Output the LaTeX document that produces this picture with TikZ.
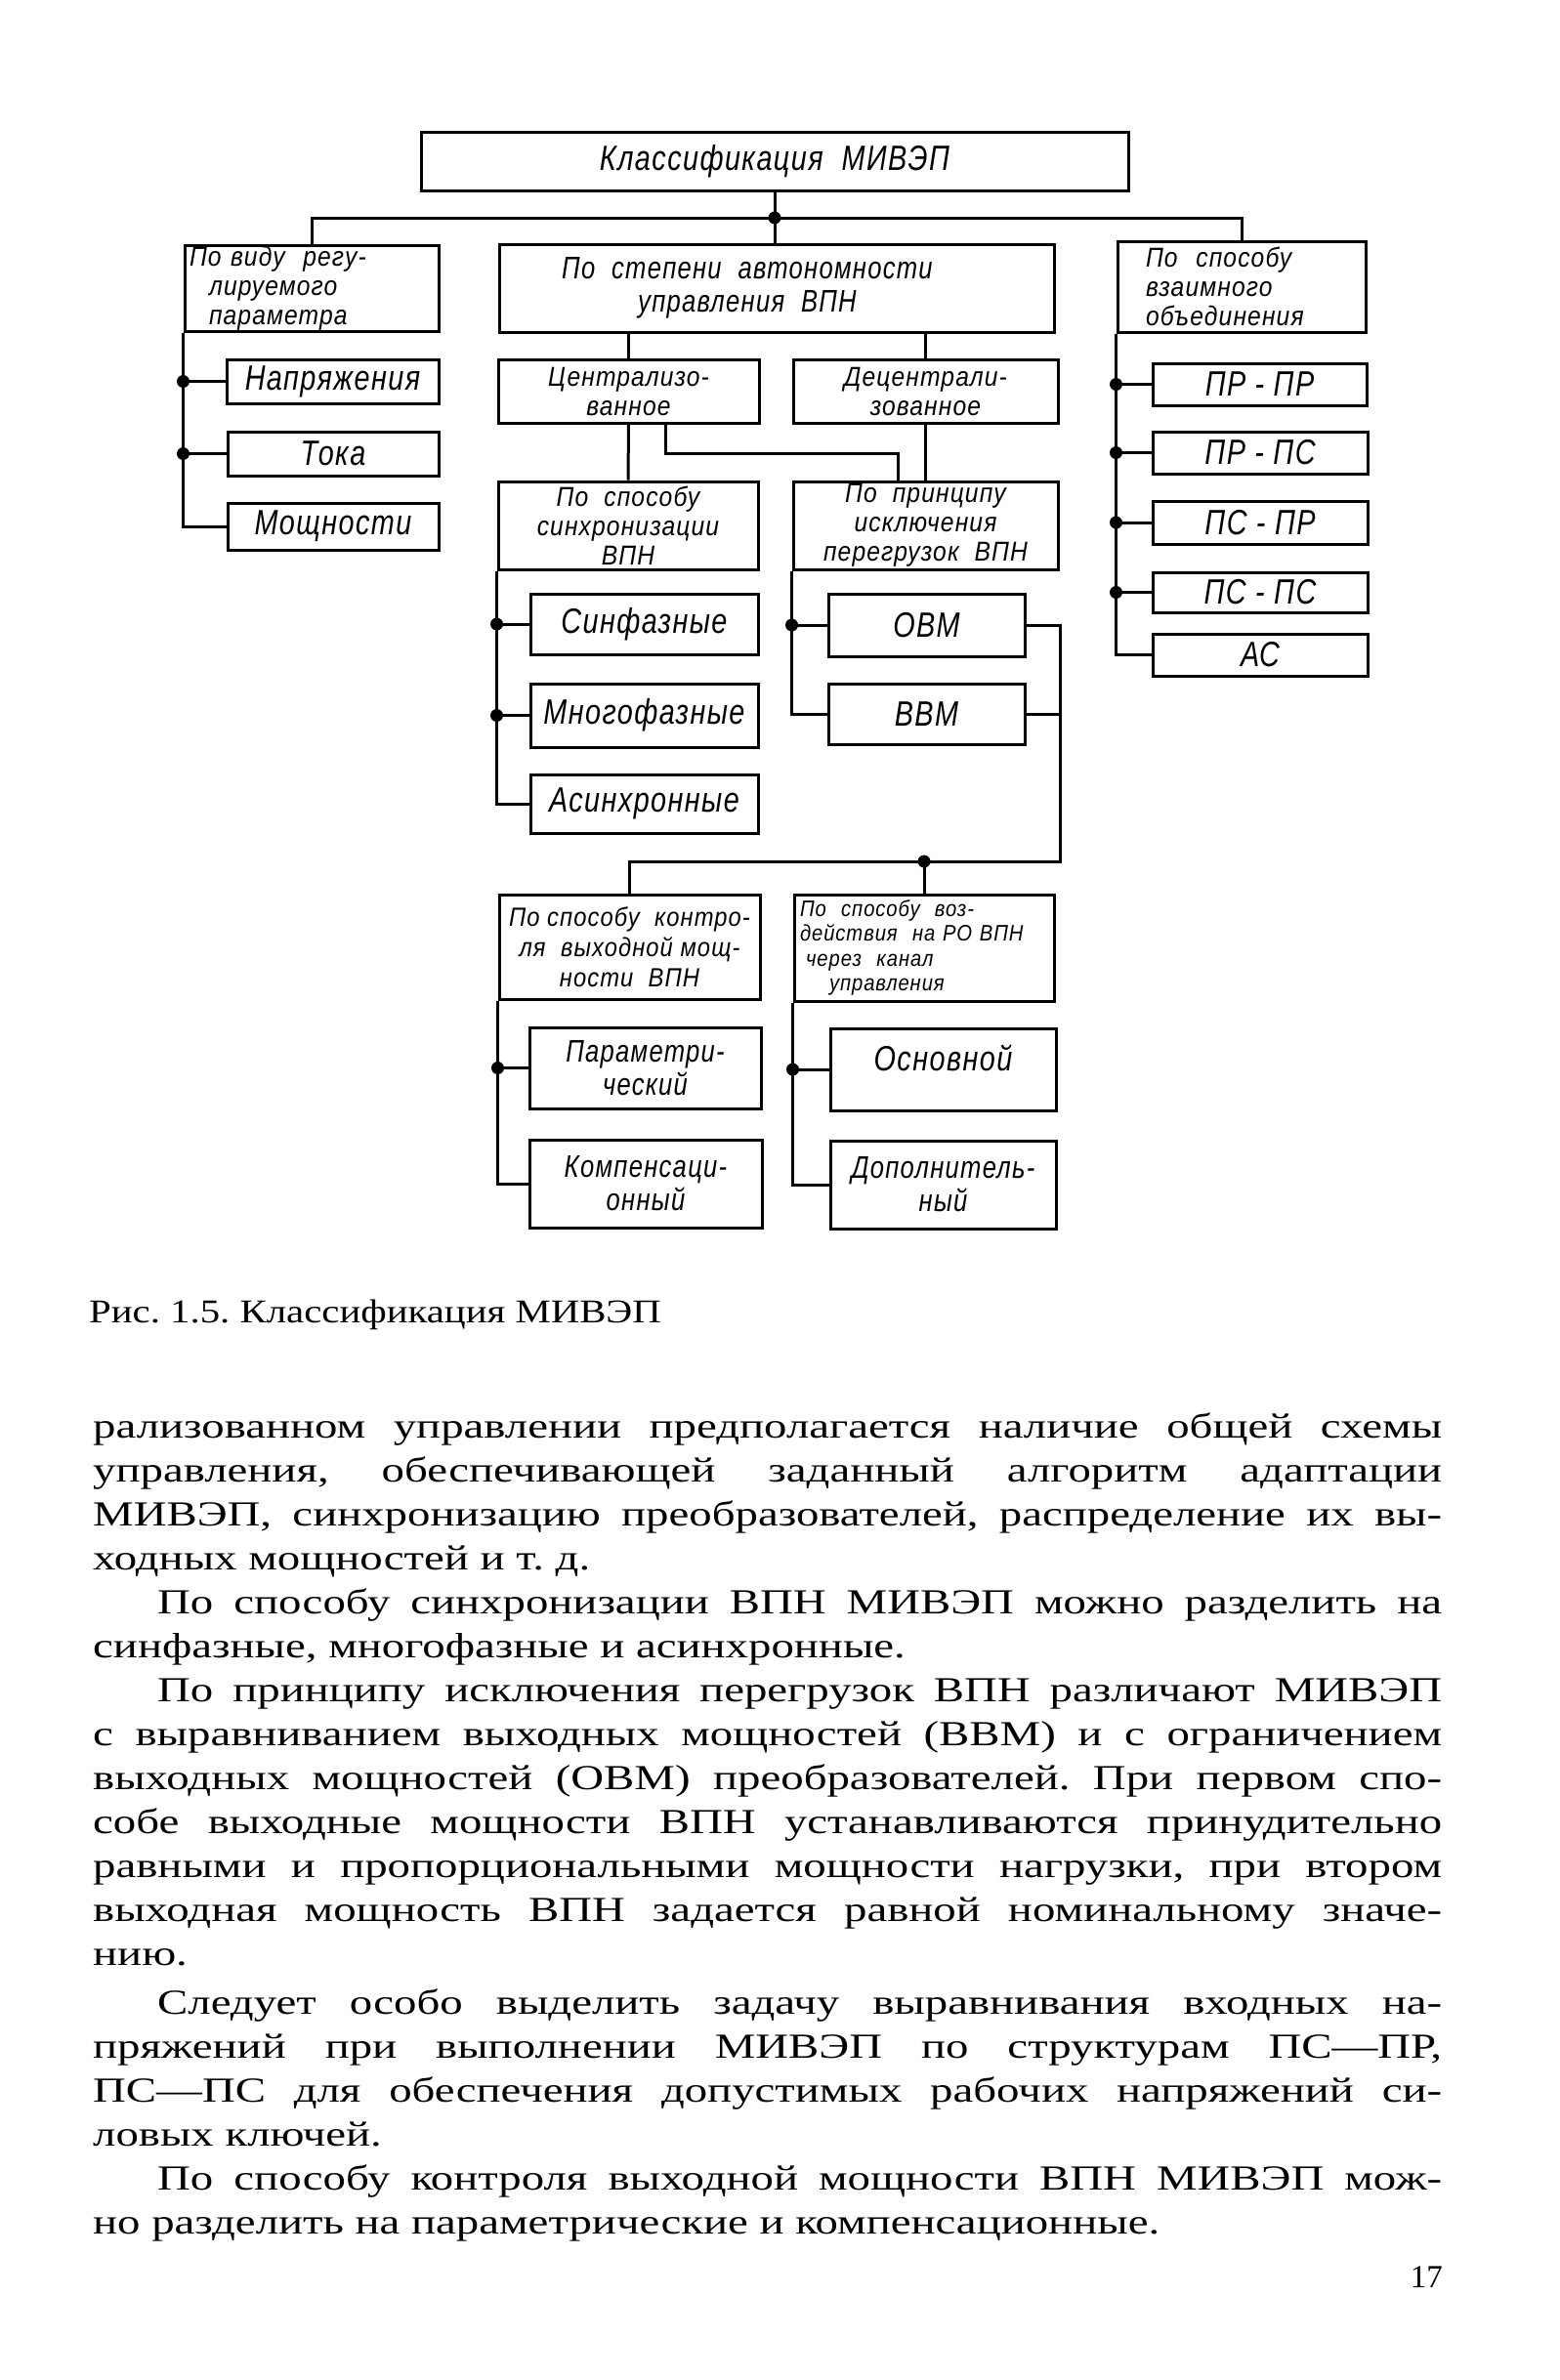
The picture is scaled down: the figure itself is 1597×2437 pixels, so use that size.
\documentclass[tikz,border=0pt]{standalone}
\usepackage{fontspec}
\setmainfont{Liberation Serif}
\newfontfamily\dfont[FakeStretch=0.8,LetterSpace=4]{Liberation Sans}
\newfontfamily\dfontw[FakeStretch=0.88,LetterSpace=4]{Liberation Sans}
\newfontfamily\bodyfont[FakeStretch=1.3]{Liberation Serif}
\newfontfamily\capfont[FakeStretch=1.2]{Liberation Serif}
\newfontfamily\numfont{Liberation Serif}
\newcommand\mybox[7][]{\node[box,#1,minimum width={(#5-#3)*1pt},minimum height={(#6-#4)*1pt}] (#2) at ({(#3+#5)/2},{(#4+#6)/2}) {#7};}
\newcommand\jl[3]{\node[bodyline] (#1) at (95,#2) {\makebox[1381pt][s]{#3}};}
\newcommand\lastl[3]{\node[bodyline] (#1) at (95,#2) {#3};}
\tikzset{
  box/.style={draw, line width=3pt, inner sep=0pt, align=center,
    font=\dfont\itshape\fontsize{36pt}{38pt}\selectfont},
  mbox/.style={font=\dfontw\itshape\fontsize{28pt}{30pt}\selectfont},
  pbox/.style={font=\dfont\itshape\fontsize{32pt}{34pt}\selectfont},
  sbox/.style={font=\dfontw\itshape\fontsize{27pt}{31pt}\selectfont},
  tbox/.style={font=\dfontw\itshape\fontsize{23pt}{25.5pt}\selectfont},
  wire/.style={line width=3pt},
  bodyline/.style={anchor=base west, inner sep=0pt,
    font=\bodyfont\fontsize{36pt}{45pt}\selectfont},
}
\begin{document}
\frenchspacing
\begin{tikzpicture}[x=1pt,y=-1pt]
\useasboundingbox (0,0) rectangle (1597,2437);
\fill[white] (0,0) rectangle (1597,2437);

% boxes
\mybox{top}{431}{135}{1155}{195}{Классификация\ \ МИВЭП}
\mybox[mbox,text width=250pt,align=left]{left}{189}{251}{449}{339}{По\ виду\ \ регу-\\\hspace*{20pt}лируемого\\\hspace*{20pt}параметра}
\mybox[pbox]{mid}{511}{250}{1079}{340}{По\ \ степени\ \ автономности\hspace*{60pt}\\управления\ \ ВПН\hspace*{60pt}}
\mybox[mbox,text width=196pt,align=left]{right}{1144}{247}{1398}{340}{По\ \ способу\\взаимного\\объединения}

\mybox{napr}{232}{368}{449}{413}{Напряжения}
\mybox{toka}{233}{442}{449}{487}{Тока}
\mybox{mosh}{233}{515}{449}{563}{Мощности}

\mybox[mbox]{cent}{510}{368}{777}{433}{Централизо-\\ванное}
\mybox[mbox]{dec}{812}{368}{1083}{433}{Децентрали-\\зованное}
\mybox[mbox]{sync}{510}{493}{776}{583}{По\ \ способу\\синхронизации\\ВПН}
\mybox[mbox]{princ}{812}{493}{1083}{583}{По\ \ принципу\\исключения\\перегрузок\ \ ВПН}

\mybox{sinf}{543}{608}{776}{670}{Синфазные}
\mybox{mnog}{543}{700}{776}{765}{Многофазные}
\mybox{asin}{543}{793}{776}{853}{Асинхронные}
\mybox{ovm}{848}{608}{1049}{672}{ОВМ}
\mybox{vvm}{848}{700}{1049}{762}{ВВМ}

\mybox[sbox]{ctrl}{511}{916}{778}{1023}{По способу\ \ контро-\\ля\ \ выходной\ мощ-\\ности\ \ ВПН}
\mybox[tbox,text width=254pt,align=left]{act}{813}{916}{1079}{1025}{По\ \ способу\ \ воз-\\действия\ \ на РО ВПН\\\hspace*{6pt}через\ \ канал\\\hspace*{30pt}управления}

\mybox[pbox]{param}{542}{1052}{779}{1135}{Параметри-\\ческий}
\mybox[pbox]{komp}{542}{1167}{780}{1257}{Компенсаци-\\онный}
\mybox{osn}{850}{1053}{1081}{1137}{\raisebox{12pt}[\height][\depth]{Основной}}
\mybox[pbox]{dop}{850}{1168}{1081}{1258}{Дополнитель-\\ный}

\mybox{prpr}{1180}{372}{1399}{415}{ПР - ПР}
\mybox{prps}{1180}{442}{1400}{485}{ПР - ПС}
\mybox{pspr}{1180}{513}{1400}{557}{ПС - ПР}
\mybox{psps}{1180}{586}{1400}{627}{ПС - ПС}
\mybox{as}{1180}{649}{1400}{692}{АС}

% connectors
\coordinate (bus) at (794,223);
\draw[wire] (top.south) -- (top.south |- mid.north);
\draw[wire] (left.north) |- (bus) -| (right.north);
\fill (top.south |- bus) circle[radius=6.5pt];

\draw[wire] (left.south west) |- (mosh.west);
\draw[wire] (left.south west |- napr.west) -- (napr.west);
\draw[wire] (left.south west |- toka.west) -- (toka.west);
\fill (left.south west |- napr.west) circle[radius=6.5pt];
\fill (left.south west |- toka.west) circle[radius=6.5pt];

\draw[wire] (cent.north) -- (cent.north |- mid.south);
\draw[wire] (dec.north) -- (dec.north |- mid.south);
\draw[wire] (cent.south) -- (sync.north);
\draw[wire] (dec.south) -- (princ.north);
\draw[wire] ([xshift=38pt]cent.south) -- ++(0,30) -| ([xshift=-28pt]princ.north);

\draw[wire] (sync.south west) |- (asin.west);
\draw[wire] (sync.south west |- sinf.west) -- (sinf.west);
\draw[wire] (sync.south west |- mnog.west) -- (mnog.west);
\fill (sync.south west |- sinf.west) circle[radius=6.5pt];
\fill (sync.south west |- mnog.west) circle[radius=6.5pt];

\draw[wire] (princ.south west) |- (vvm.west);
\draw[wire] (princ.south west |- ovm.west) -- (ovm.west);
\fill (princ.south west |- ovm.west) circle[radius=6.5pt];

\coordinate (b2) at (1085,882);
\draw[wire] (ovm.east) -| (b2) -| (ctrl.north);
\draw[wire] (vvm.east) -- (vvm.east -| b2);
\draw[wire] (act.north) -- (act.north |- b2);
\fill (act.north |- b2) circle[radius=6.5pt];

\draw[wire] (ctrl.south west) |- (komp.west);
\draw[wire] (ctrl.south west |- param.west) -- (param.west);
\fill (ctrl.south west |- param.west) circle[radius=6.5pt];

\draw[wire] (act.south west) |- (dop.west);
\draw[wire] (act.south west |- osn.west) -- (osn.west);
\fill (act.south west |- osn.west) circle[radius=6.5pt];

\draw[wire] (right.south west) |- (as.west);
\foreach \n in {prpr,prps,pspr,psps}{
  \draw[wire] (right.south west |- \n.west) -- (\n.west);
  \fill (right.south west |- \n.west) circle[radius=6.5pt];
}

% caption
\node[anchor=base west, inner sep=0pt, font=\capfont\fontsize{34pt}{34pt}\selectfont] (cap) at (91,1354) {Рис. 1.5. Классификация МИВЭП};

% body text
\jl{l1}{1472}{рализованном управлении предполагается наличие общей схемы}
\jl{l2}{1517}{управления, обеспечивающей заданный алгоритм адаптации}
\jl{l3}{1562}{МИВЭП, синхронизацию преобразователей, распределение их вы-}
\lastl{l4}{1607}{ходных мощностей и т. д.}
\jl{l5}{1652}{\hspace*{66pt}По способу синхронизации ВПН МИВЭП можно разделить на}
\lastl{l6}{1697}{синфазные, многофазные и асинхронные.}
\jl{l7}{1742}{\hspace*{66pt}По принципу исключения перегрузок ВПН различают МИВЭП}
\jl{l8}{1787}{с выравниванием выходных мощностей (ВВМ) и с ограничением}
\jl{l9}{1832}{выходных мощностей (ОВМ) преобразователей. При первом спо-}
\jl{l10}{1877}{собе выходные мощности ВПН устанавливаются принудительно}
\jl{l11}{1922}{равными и пропорциональными мощности нагрузки, при втором}
\jl{l12}{1967}{выходная мощность ВПН задается равной номинальному значе-}
\lastl{l13}{2012}{нию.}
\jl{l14}{2062}{\hspace*{66pt}Следует особо выделить задачу выравнивания входных на-}
\jl{l15}{2107}{пряжений при выполнении МИВЭП по структурам ПС—ПР,}
\jl{l16}{2152}{ПС—ПС для обеспечения допустимых рабочих напряжений си-}
\lastl{l17}{2197}{ловых ключей.}
\jl{l18}{2242}{\hspace*{66pt}По способу контроля выходной мощности ВПН МИВЭП мож-}
\lastl{l19}{2287}{но разделить на параметрические и компенсационные.}

\node[anchor=base east, inner sep=0pt, font=\numfont\fontsize{33pt}{33pt}\selectfont] (pg) at (1477,2342) {17};
\end{tikzpicture}
\end{document}
